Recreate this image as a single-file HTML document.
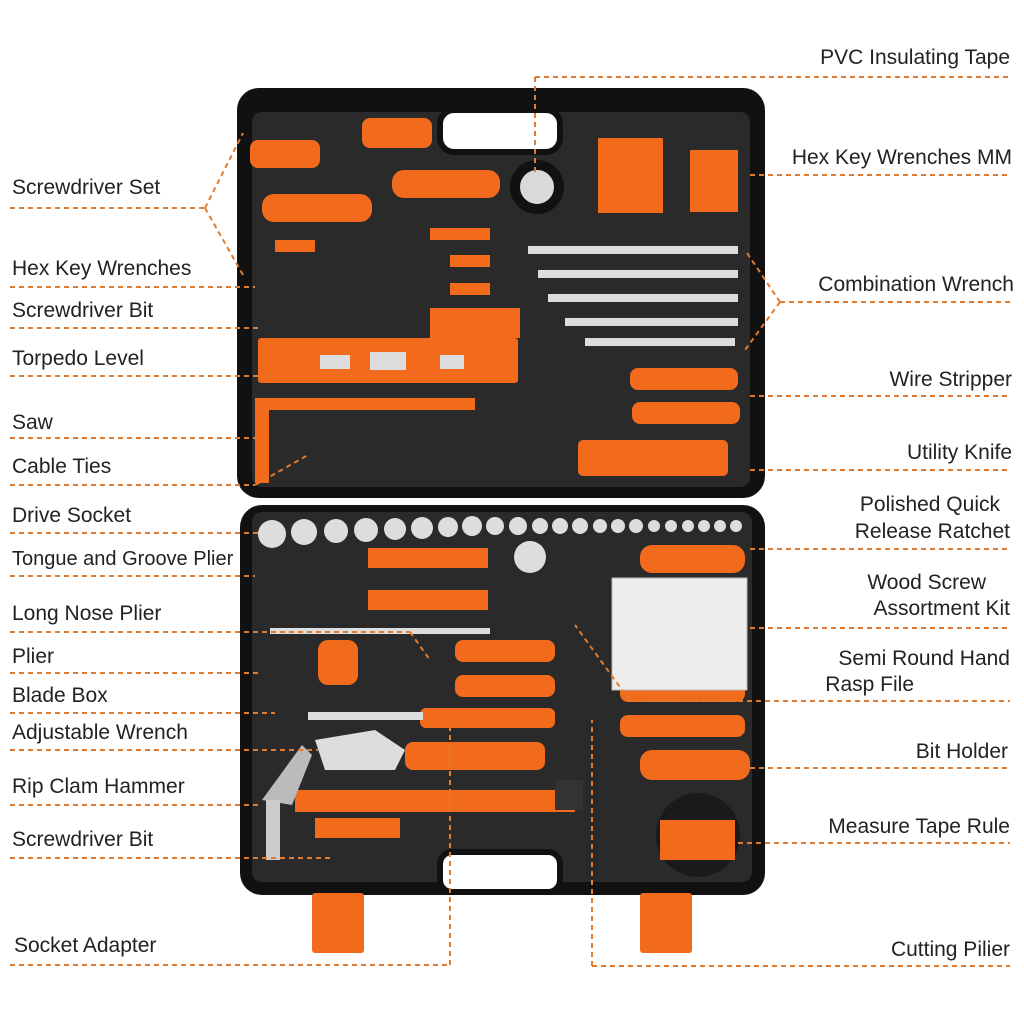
<!DOCTYPE html>
<html><head><meta charset="utf-8"><style>
html,body{margin:0;padding:0;background:#fff;}
svg{display:block}
text{font-family:"Liberation Sans",sans-serif;font-size:21px;fill:#222;}
</style></head><body>
<svg width="1024" height="1024" viewBox="0 0 1024 1024" xmlns="http://www.w3.org/2000/svg">
<!-- case top -->
<rect x="237" y="88" width="528" height="410" rx="22" fill="#111"/>
<rect x="252" y="112" width="498" height="375" rx="10" fill="#2a2a2a"/>
<rect x="440" y="110" width="120" height="42" rx="14" fill="#fff" stroke="#111" stroke-width="6"/>
<!-- case bottom -->
<rect x="240" y="505" width="525" height="390" rx="22" fill="#111"/>
<rect x="252" y="512" width="500" height="370" rx="10" fill="#2a2a2a"/>
<rect x="440" y="852" width="120" height="40" rx="12" fill="#fff" stroke="#111" stroke-width="6"/>
<rect x="312" y="893" width="52" height="60" rx="3" fill="#f26a1b"/>
<rect x="640" y="893" width="52" height="60" rx="3" fill="#f26a1b"/>
<!-- tools top -->
<g fill="#f26a1b">
<rect x="250" y="140" width="70" height="28" rx="8"/>
<rect x="362" y="118" width="70" height="30" rx="8"/>
<rect x="392" y="170" width="108" height="28" rx="12"/>
<rect x="262" y="194" width="110" height="28" rx="12"/>
<rect x="430" y="228" width="60" height="12"/>
<rect x="275" y="240" width="40" height="12"/>
<rect x="450" y="255" width="40" height="12"/>
<rect x="450" y="283" width="40" height="12"/>
<rect x="598" y="138" width="65" height="75"/>
<rect x="690" y="150" width="48" height="62"/>
<rect x="430" y="308" width="90" height="30"/>
<rect x="258" y="338" width="260" height="45" rx="3"/>
<rect x="255" y="398" width="14" height="85"/>
<rect x="255" y="398" width="220" height="12"/>
<rect x="630" y="368" width="108" height="22" rx="8"/>
<rect x="632" y="402" width="108" height="22" rx="8"/>
<rect x="578" y="440" width="150" height="36" rx="5"/>
<!-- bottom tools -->
<rect x="640" y="545" width="105" height="28" rx="12"/>
<rect x="368" y="548" width="120" height="20"/>
<rect x="368" y="590" width="120" height="20"/>
<rect x="318" y="640" width="40" height="45" rx="10"/>
<rect x="455" y="640" width="100" height="22" rx="8"/>
<rect x="455" y="675" width="100" height="22" rx="8"/>
<rect x="620" y="680" width="125" height="22" rx="8"/>
<rect x="620" y="715" width="125" height="22" rx="8"/>
<rect x="420" y="708" width="135" height="20" rx="6"/>
<rect x="405" y="742" width="140" height="28" rx="8"/>
<rect x="640" y="750" width="110" height="30" rx="12"/>
<rect x="295" y="790" width="280" height="22"/>
<rect x="315" y="818" width="85" height="20"/>
</g>
<rect x="555" y="780" width="28" height="30" fill="#333"/>
<rect x="612" y="578" width="135" height="112" fill="#eee" stroke="#bbb"/>
<circle cx="698" cy="835" r="42" fill="#1a1a1a"/>
<rect x="660" y="820" width="75" height="40" fill="#f26a1b"/>
<circle cx="537" cy="187" r="22" fill="#d9d9d9" stroke="#111" stroke-width="10"/>
<g fill="#ddd">
<rect x="320" y="355" width="30" height="14"/><rect x="370" y="352" width="36" height="18"/><rect x="440" y="355" width="24" height="14"/>
<rect x="528" y="246" width="210" height="8"/><rect x="538" y="270" width="200" height="8"/><rect x="548" y="294" width="190" height="8"/><rect x="565" y="318" width="173" height="8"/><rect x="585" y="338" width="150" height="8"/>
<rect x="270" y="628" width="220" height="6"/><rect x="308" y="712" width="115" height="8"/>
<path d="M315 740 l60 -10 l30 20 l-10 20 l-70 0z"/>
<path d="M262 800 l40 -55 l10 10 l-20 50 z" fill="#bbb"/>
<rect x="266" y="800" width="14" height="60" fill="#ccc"/>
</g>
<g fill="#ddd">
<circle cx="272" cy="534" r="14"/><circle cx="304" cy="532" r="13"/><circle cx="336" cy="531" r="12"/><circle cx="366" cy="530" r="12"/><circle cx="395" cy="529" r="11"/><circle cx="422" cy="528" r="11"/><circle cx="448" cy="527" r="10"/><circle cx="472" cy="526" r="10"/><circle cx="495" cy="526" r="9"/><circle cx="518" cy="526" r="9"/><circle cx="540" cy="526" r="8"/><circle cx="560" cy="526" r="8"/><circle cx="580" cy="526" r="8"/><circle cx="600" cy="526" r="7"/><circle cx="618" cy="526" r="7"/><circle cx="636" cy="526" r="7"/><circle cx="654" cy="526" r="6"/><circle cx="671" cy="526" r="6"/><circle cx="688" cy="526" r="6"/><circle cx="704" cy="526" r="6"/><circle cx="720" cy="526" r="6"/><circle cx="736" cy="526" r="6"/>
<circle cx="530" cy="557" r="16"/>
</g>
<!-- dashed leader lines -->
<g stroke="#e07b30" stroke-width="2" stroke-dasharray="5,4" fill="none">
<line x1="10" y1="208" x2="205" y2="208"/><polyline points="205,208 243,133"/><polyline points="205,208 243,275"/>
<line x1="10" y1="287" x2="255" y2="287"/>
<line x1="10" y1="328" x2="262" y2="328"/>
<line x1="10" y1="376" x2="258" y2="376"/>
<line x1="10" y1="438" x2="258" y2="438"/>
<line x1="10" y1="485" x2="255" y2="485"/><line x1="255" y1="485" x2="308" y2="455"/>
<line x1="10" y1="533" x2="262" y2="533"/>
<line x1="10" y1="576" x2="255" y2="576"/>
<line x1="10" y1="632" x2="410" y2="632"/><line x1="410" y1="632" x2="430" y2="660"/>
<line x1="10" y1="673" x2="262" y2="673"/>
<line x1="10" y1="713" x2="275" y2="713"/>
<line x1="10" y1="750" x2="318" y2="750"/>
<line x1="10" y1="805" x2="262" y2="805"/>
<line x1="10" y1="858" x2="330" y2="858"/>
<line x1="10" y1="965" x2="450" y2="965"/><line x1="450" y1="965" x2="450" y2="725"/>
<line x1="535" y1="77" x2="1010" y2="77"/><line x1="535" y1="77" x2="535" y2="175"/>
<line x1="750" y1="175" x2="1010" y2="175"/>
<line x1="780" y1="302" x2="1010" y2="302"/><polyline points="780,302 745,250"/><polyline points="780,302 745,350"/>
<line x1="750" y1="396" x2="1010" y2="396"/>
<line x1="750" y1="470" x2="1010" y2="470"/>
<line x1="750" y1="549" x2="1010" y2="549"/>
<line x1="750" y1="628" x2="1010" y2="628"/>
<line x1="630" y1="701" x2="1010" y2="701"/><line x1="630" y1="701" x2="575" y2="625"/>
<line x1="750" y1="768" x2="1010" y2="768"/>
<line x1="738" y1="843" x2="1010" y2="843"/>
<line x1="592" y1="966" x2="1010" y2="966"/><line x1="592" y1="966" x2="592" y2="720"/>
</g>
<!-- labels -->
<text x="12" y="194">Screwdriver Set</text>
<text x="12" y="275">Hex Key Wrenches</text>
<text x="12" y="317">Screwdriver Bit</text>
<text x="12" y="365">Torpedo Level</text>
<text x="12" y="429">Saw</text>
<text x="12" y="473">Cable Ties</text>
<text x="12" y="522">Drive Socket</text>
<text x="12" y="565" style="font-size:20px">Tongue and Groove Plier</text>
<text x="12" y="620">Long Nose Plier</text>
<text x="12" y="663">Plier</text>
<text x="12" y="702">Blade Box</text>
<text x="12" y="739">Adjustable Wrench</text>
<text x="12" y="793">Rip Clam Hammer</text>
<text x="12" y="846">Screwdriver Bit</text>
<text x="14" y="952">Socket Adapter</text>
<g text-anchor="end">
<text x="1010" y="64">PVC Insulating Tape</text>
<text x="1012" y="164">Hex Key Wrenches MM</text>
<text x="1014" y="291">Combination Wrench</text>
<text x="1012" y="386">Wire Stripper</text>
<text x="1012" y="459">Utility Knife</text>
<text x="1000" y="511">Polished Quick</text>
<text x="1010" y="538">Release Ratchet</text>
<text x="986" y="589">Wood Screw</text>
<text x="1010" y="615">Assortment Kit</text>
<text x="1010" y="665">Semi Round Hand</text>
<text x="914" y="691">Rasp File</text>
<text x="1008" y="758">Bit Holder</text>
<text x="1010" y="833">Measure Tape Rule</text>
<text x="1010" y="956">Cutting Pilier</text>
</g>
</svg>
</body></html>
